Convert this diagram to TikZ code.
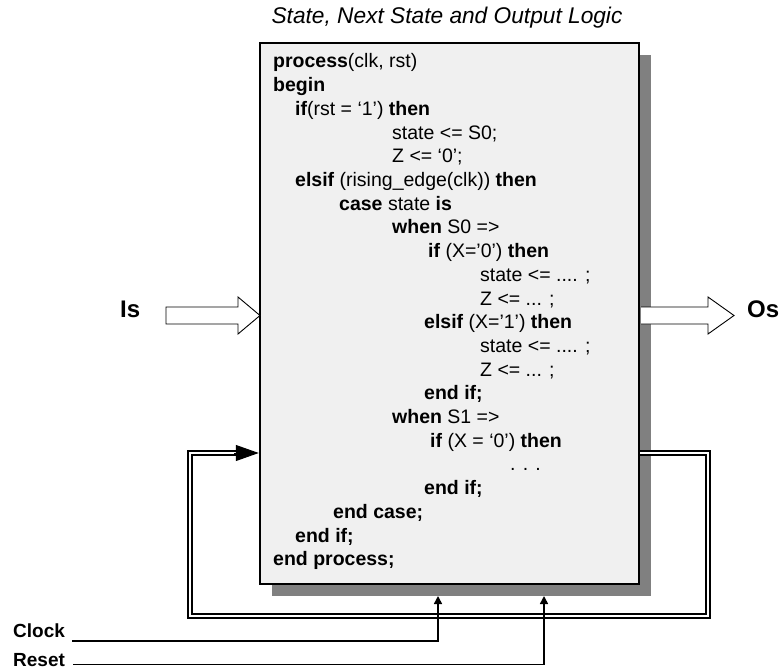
\documentclass[tikz,border=0pt]{standalone}
\usepackage{fontspec}
\setmainfont{Liberation Sans}
\usetikzlibrary{arrows.meta,shadows}
\begin{document}
\begin{tikzpicture}[x=1pt,y=-1pt,
 code/.style={anchor=base west,inner sep=0pt,font=\fontsize{19.5}{23.7}\selectfont},
 lbl/.style={anchor=base west,inner sep=0pt,font=\fontsize{19}{23}\selectfont\bfseries},
 big/.style={anchor=base west,inner sep=0pt,font=\fontsize{24}{28}\selectfont\bfseries},
 hollow/.style={draw=black,fill=white,line width=0.9pt,line join=miter},
 bus/.style={draw=black,double=white,line width=1.3pt,double distance=2.6pt,line join=miter},
 wire/.style={line width=1.6pt,-{Triangle[length=8pt,width=8pt]}}]
\useasboundingbox (0,0) rectangle (783,671);

\node (title) at (447,24) [anchor=base,inner sep=0pt,font=\fontsize{22.7}{26}\selectfont\itshape] {State, Next State and Output Logic};

\node (box) at (449.5,313.5) [draw,line width=2.5pt,fill=black!6,minimum width=379pt,minimum height=541pt,inner sep=0pt,
  drop shadow={shadow xshift=12pt,shadow yshift=-12pt,fill=black!50,opacity=1}] {};

% code lines
\node[code] (l0)  at (273,68)    {\textbf{process}(clk, rst)};
\node[code] (l1)  at (273,91.7)  {\textbf{begin}};
\node[code] (l2)  at (295,115.4) {\textbf{if}(rst = ‘1’) \textbf{then}};
\node[code] (l3)  at (392,139.1) {state <= S0;};
\node[code] (l4)  at (392,162.8) {Z <= ‘0’;};
\node[code] (l5)  at (295,186.5) {\textbf{elsif} (rising\_edge(clk)) \textbf{then}};
\node[code] (l6)  at (339,210.2) {\textbf{case} state \textbf{is}};
\node[code] (l7)  at (392,233.9) {\textbf{when} S0 =>};
\node[code] (l8)  at (428,257.6) {\textbf{if} (X=’0’) \textbf{then}};
\node[code] (l9)  at (480,281.3) {state <= .... ;};
\node[code] (l10) at (480,305)   {Z <= ... ;};
\node[code] (l11) at (424,328.7) {\textbf{elsif} (X=’1’) \textbf{then}};
\node[code] (l12) at (480,352.4) {state <= .... ;};
\node[code] (l13) at (480,376.1) {Z <= ... ;};
\node[code] (l14) at (424,399.8) {\textbf{end if;}};
\node[code] (l15) at (392,423.5) {\textbf{when} S1 =>};
\node[code] (l16) at (430,447.2) {\textbf{if} (X = ‘0’) \textbf{then}};
\node[code] (l17) at (510,470.9) {. . .};
\node[code] (l18) at (424,494.6) {\textbf{end if;}};
\node[code] (l19) at (333,518.3) {\textbf{end case;}};
\node[code] (l20) at (295,542)   {\textbf{end if;}};
\node[code] (l21) at (273,565.7) {\textbf{end process;}};

% input / output
\node[big] (is) at (120,317) {Is};
\node[big] (os) at (747,317) {Os};
\draw[hollow] (166,307) -- (238,307) -- (238,297) -- (260,315.5) -- (238,334) -- (238,324) -- (166,324) -- cycle;
\draw[hollow] (641,307) -- (708,307) -- (708,297) -- (734,315.5) -- (708,334) -- (708,324) -- (641,324);

% feedback loop
\coordinate (fbA) at (640,453);
\coordinate (fbB) at (708,453);
\coordinate (fbC) at (708,616);
\coordinate (fbD) at (190,616);
\coordinate (fbE) at (190,453);
\coordinate (fbF) at (238,453);
\draw[bus] (fbA) -- (fbB) -- (fbC) -- (fbD) -- (fbE) -- (fbF);
\draw[line width=1pt,-{Triangle[length=23pt,width=16pt]}] (234,453) -- (box.west |- fbA);

% clock and reset
\node[lbl] (clk) at (13,637) {Clock};
\node[lbl] (rst) at (13,666) {Reset};
\coordinate (clkS) at (72,641);
\coordinate (clkT) at (438,641);
\coordinate (rstS) at (73,664.5);
\coordinate (rstT) at (544,664.5);
\draw[wire] (clkS) -- (clkT) -- (438,596);
\draw[wire] (rstS) -- (rstT) -- (544,596);
\end{tikzpicture}
\end{document}
